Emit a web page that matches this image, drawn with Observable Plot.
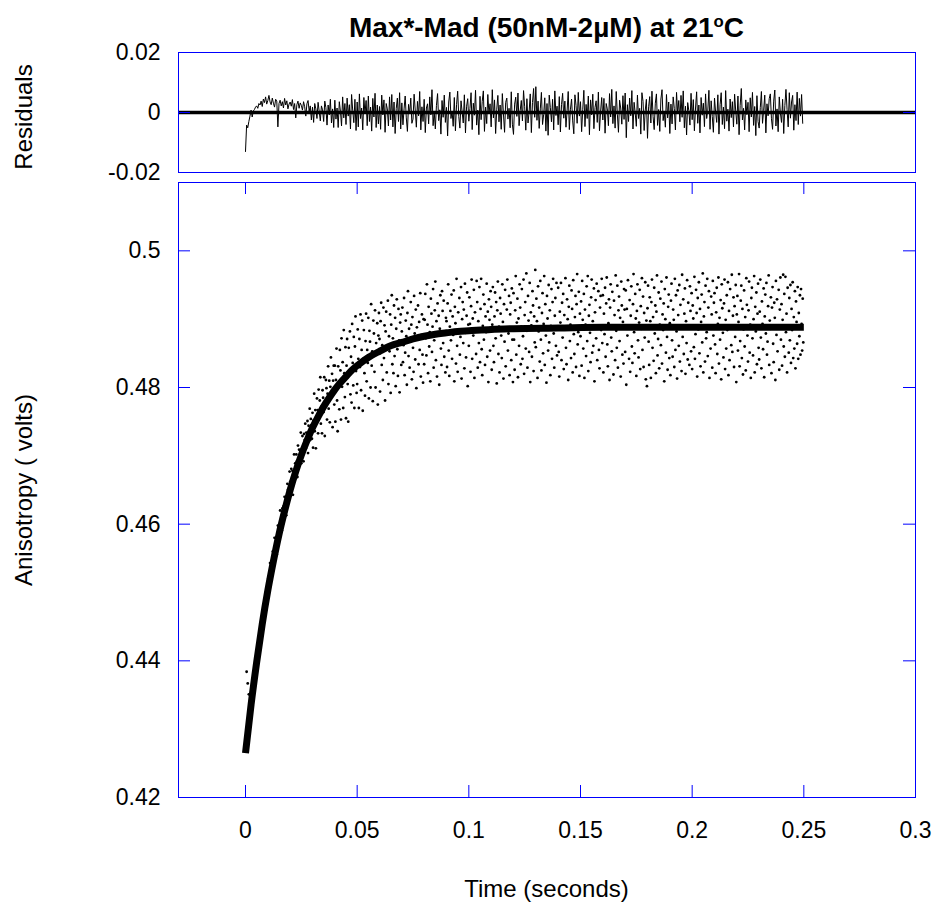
<!DOCTYPE html>
<html>
<head>
<meta charset="utf-8">
<script src="https://cdn.jsdelivr.net/npm/d3@7"></script>
<script src="https://cdn.jsdelivr.net/npm/@observablehq/plot@0.6"></script>
<style>
  html, body { margin: 0; padding: 0; background: #fff; }
  #wrap { position: relative; width: 936px; height: 905px; font-family: "Liberation Sans", Arial, sans-serif; color: #000; background: #fff; }
  #resid { position: absolute; left: 0; top: 0; z-index: 1; }
  #main { position: absolute; left: 0; top: 177px; z-index: 1; }
  #title { position: absolute; z-index: 2; left: 178px; width: 737px; top: 14px; text-align: center; font-weight: bold; font-size: 28px; line-height: 1; white-space: nowrap; }
  #title sup { font-size: 0.6em; line-height: 0; vertical-align: super; }
  .ylab { position: absolute; z-index: 2; width: 0; height: 0; }
  .ylab span { position: absolute; left: 0; top: 0; transform: translate(-50%, -50%) rotate(-90deg); white-space: nowrap; font-size: 24px; line-height: 1; }
  #xlab { position: absolute; z-index: 2; left: 178px; width: 737px; top: 877px; text-align: center; font-size: 24px; line-height: 1; }
</style>
</head>
<body>
<div id="wrap">
  <div id="resid"></div>
  <div id="main"></div>
  <div id="title">Max*-Mad (50nM-2µM) at 21<sup>o</sup>C</div>
  <div class="ylab" style="left:24px; top:117px;"><span>Residuals</span></div>
  <div class="ylab" style="left:24px; top:490px;"><span>Anisotropy ( volts)</span></div>
  <div id="xlab">Time (seconds)</div>
</div>
<script>
// Sampling intervals (seconds)
const SAMPLE_INTERVAL = 0.00025;     // anisotropy points
const RESIDUAL_INTERVAL = 0.0005;    // residual trace

// Anisotropy (volts), one value per sample (40 per 0.01 s)
const anisotropy = [
.4270,.4276,.4384,.4283,.4367,.4300,.4351,.4338,.4325,.4318,.4340,.4345,.4352,.4360,.4365,.4371,.4376,.4384,.4389,.4395,.4401,.4410,.4412,.4419,.4424,.4430,.4436,.4441,.4446,.4453,.4458,.4462,.4468,.4474,.4477,.4484,.4489,.4495,.4498,.4503,
.4509,.4521,.4509,.4525,.4543,.4529,.4519,.4546,.4541,.4560,.4553,.4545,.4580,.4568,.4563,.4581,.4556,.4582,.4598,.4586,.4596,.4585,.4620,.4605,.4601,.4591,.4623,.4615,.4626,.4608,.4640,.4627,.4636,.4613,.4639,.4659,.4650,.4639,.4653,.4677,
.4662,.4643,.4681,.4662,.4678,.4643,.4674,.4702,.4674,.4689,.4671,.4702,.4692,.4669,.4715,.4694,.4709,.4691,.4707,.4734,.4689,.4710,.4729,.4708,.4692,.4732,.4723,.4747,.4711,.4734,.4725,.4751,.4704,.4744,.4736,.4769,.4723,.4754,.4745,.4725,
.4763,.4712,.4752,.4791,.4736,.4767,.4711,.4756,.4784,.4767,.4733,.4797,.4755,.4781,.4815,.4747,.4772,.4733,.4796,.4785,.4764,.4815,.4729,.4778,.4811,.4799,.4753,.4791,.4831,.4769,.4810,.4749,.4801,.4844,.4787,.4820,.4742,.4810,.4832,.4775,
.4832,.4750,.4811,.4857,.4781,.4736,.4831,.4808,.4768,.4855,.4825,.4753,.4872,.4801,.4837,.4770,.4884,.4821,.4786,.4859,.4755,.4832,.4871,.4805,.4750,.4858,.4823,.4882,.4790,.4845,.4778,.4893,.4836,.4803,.4874,.4770,.4860,.4904,.4824,.4792,
.4805,.4885,.4842,.4770,.4871,.4830,.4907,.4796,.4855,.4898,.4766,.4842,.4884,.4821,.4788,.4868,.4908,.4809,.4855,.4836,.4902,.4784,.4883,.4867,.4800,.4922,.4832,.4853,.4780,.4898,.4879,.4823,.4913,.4800,.4865,.4848,.4894,.4775,.4876,.4909,
.4871,.4794,.4897,.4924,.4833,.4862,.4811,.4917,.4843,.4891,.4781,.4882,.4911,.4822,.4860,.4927,.4805,.4875,.4853,.4907,.4792,.4892,.4935,.4834,.4872,.4821,.4920,.4846,.4902,.4802,.4886,.4929,.4856,.4817,.4915,.4869,.4793,.4895,.4907,.4833,
.4882,.4917,.4837,.4862,.4931,.4818,.4851,.4898,.4875,.4804,.4909,.4941,.4846,.4886,.4829,.4867,.4925,.4892,.4812,.4903,.4858,.4823,.4934,.4879,.4841,.4914,.4799,.4888,.4872,.4920,.4834,.4896,.4855,.4938,.4816,.4877,.4907,.4848,.4807,.4900,
.4834,.4899,.4937,.4872,.4847,.4951,.4892,.4821,.4918,.4860,.4881,.4809,.4930,.4908,.4852,.4889,.4944,.4829,.4869,.4913,.4955,.4840,.4897,.4816,.4923,.4876,.4905,.4804,.4886,.4935,.4857,.4833,.4941,.4912,.4865,.4927,.4845,.4879,.4822,.4902,
.4897,.4830,.4923,.4951,.4854,.4817,.4889,.4912,.4869,.4936,.4842,.4904,.4877,.4942,.4809,.4918,.4894,.4835,.4959,.4861,.4823,.4910,.4885,.4931,.4848,.4874,.4947,.4813,.4900,.4925,.4865,.4914,.4828,.4952,.4880,.4844,.4905,.4939,.4802,.4892,
.4861,.4932,.4893,.4823,.4919,.4958,.4842,.4901,.4876,.4943,.4814,.4910,.4886,.4849,.4956,.4925,.4829,.4897,.4865,.4947,.4837,.4915,.4959,.4856,.4818,.4890,.4936,.4870,.4922,.4833,.4904,.4881,.4952,.4845,.4911,.4808,.4929,.4899,.4854,.4941,
.4918,.4826,.4892,.4947,.4861,.4837,.4904,.4939,.4872,.4925,.4806,.4913,.4955,.4849,.4889,.4822,.4931,.4908,.4876,.4843,.4951,.4896,.4813,.4922,.4867,.4943,.4831,.4886,.4914,.4958,.4854,.4879,.4934,.4818,.4907,.4924,.4840,.4945,.4870,.4808,
.4938,.4870,.4826,.4913,.4963,.4848,.4895,.4930,.4815,.4901,.4861,.4951,.4917,.4834,.4889,.4944,.4842,.4875,.4958,.4820,.4906,.4925,.4857,.4967,.4883,.4829,.4934,.4898,.4852,.4953,.4808,.4910,.4891,.4845,.4941,.4920,.4824,.4904,.4866,.4972,
.4859,.4930,.4897,.4814,.4948,.4882,.4917,.4838,.4956,.4870,.4825,.4909,.4938,.4850,.4893,.4963,.4833,.4922,.4876,.4807,.4934,.4901,.4854,.4950,.4866,.4913,.4818,.4890,.4944,.4842,.4925,.4959,.4879,.4829,.4905,.4931,.4861,.4953,.4847,.4888,
.4946,.4852,.4816,.4911,.4895,.4953,.4840,.4924,.4873,.4937,.4827,.4906,.4885,.4960,.4858,.4834,.4929,.4900,.4811,.4918,.4949,.4868,.4892,.4843,.4942,.4915,.4822,.4957,.4878,.4849,.4903,.4934,.4830,.4922,.4966,.4863,.4881,.4940,.4817,.4908,
.4875,.4926,.4832,.4956,.4899,.4857,.4937,.4814,.4914,.4892,.4846,.4948,.4868,.4963,.4824,.4905,.4921,.4880,.4837,.4932,.4958,.4851,.4897,.4861,.4945,.4809,.4910,.4928,.4872,.4952,.4840,.4890,.4941,.4855,.4828,.4917,.4934,.4884,.4959,.4865,
.4935,.4822,.4908,.4878,.4946,.4845,.4923,.4961,.4863,.4831,.4894,.4929,.4811,.4917,.4951,.4873,.4853,.4940,.4889,.4819,.4927,.4906,.4840,.4964,.4883,.4858,.4949,.4829,.4913,.4933,.4868,.4902,.4816,.4955,.4920,.4848,.4896,.4835,.4944,.4914,
.4852,.4942,.4804,.4915,.4876,.4957,.4891,.4842,.4928,.4823,.4905,.4948,.4860,.4836,.4922,.4966,.4881,.4850,.4937,.4901,.4817,.4912,.4951,.4869,.4844,.4895,.4943,.4827,.4919,.4886,.4960,.4855,.4933,.4830,.4909,.4873,.4954,.4812,.4898,.4802,
.4916,.4949,.4867,.4833,.4932,.4897,.4814,.4925,.4958,.4858,.4903,.4839,.4946,.4879,.4920,.4821,.4911,.4964,.4847,.4871,.4939,.4828,.4892,.4930,.4862,.4955,.4835,.4907,.4884,.4923,.4809,.4944,.4900,.4851,.4961,.4874,.4826,.4918,.4936,.4843,
.4894,.4818,.4927,.4952,.4869,.4845,.4914,.4899,.4830,.4959,.4855,.4935,.4882,.4813,.4942,.4906,.4861,.4950,.4838,.4921,.4890,.4824,.4965,.4874,.4929,.4849,.4908,.4945,.4820,.4897,.4865,.4957,.4841,.4924,.4887,.4833,.4948,.4912,.4853,.4938,
.4827,.4920,.4901,.4859,.4962,.4842,.4878,.4943,.4909,.4816,.4931,.4885,.4954,.4850,.4915,.4831,.4896,.4936,.4866,.4967,.4822,.4904,.4925,.4838,.4949,.4872,.4881,.4959,.4846,.4917,.4941,.4814,.4891,.4857,.4933,.4907,.4829,.4956,.4876,.4924,
.4938,.4863,.4821,.4910,.4946,.4849,.4893,.4961,.4835,.4902,.4870,.4928,.4812,.4951,.4916,.4880,.4844,.4923,.4958,.4827,.4899,.4857,.4935,.4884,.4954,.4818,.4912,.4840,.4944,.4889,.4862,.4965,.4852,.4905,.4932,.4830,.4919,.4874,.4950,.4808,
.4907,.4934,.4854,.4896,.4966,.4831,.4868,.4927,.4949,.4843,.4915,.4819,.4885,.4942,.4860,.4903,.4825,.4960,.4921,.4876,.4838,.4913,.4955,.4851,.4892,.4814,.4931,.4946,.4872,.4847,.4900,.4963,.4822,.4918,.4882,.4939,.4834,.4908,.4952,.4858,
.4841,.4911,.4958,.4873,.4828,.4926,.4893,.4856,.4945,.4815,.4904,.4936,.4879,.4953,.4848,.4867,.4919,.4964,.4833,.4898,.4886,.4932,.4821,.4917,.4947,.4864,.4837,.4924,.4902,.4811,.4956,.4877,.4929,.4853,.4889,.4943,.4826,.4914,.4961,.4870,
.4922,.4832,.4899,.4965,.4860,.4937,.4845,.4962,.4881,.4908,.4822,.4946,.4891,.4851,.4931,.4869,.4950,.4836,.4915,.4884,.4954,.4843,.4903,.4857,.4941,.4828,.4926,.4896,.4864,.4947,.4842,.4909,.4875,.4935,.4848,.4944,.4893,.4854,.4930,.4866
];

// Residuals of the fit, one value per 0.0005 s
const residuals = [
-.0130,-.0042,-.0051,-.0030,-.0012,.0008,-.0015,.0005,.0010,.0018,
.0022,.0014,.0030,.0025,.0038,.0020,.0045,.0033,.0052,.0028,
.0040,.0057,.0035,.0026,.0048,.0031,.0018,.0044,.0038,-.0048,
.0030,.0041,.0022,.0036,.0015,.0047,.0025,.0039,.0012,.0028,
.0035,.0021,.0043,.0010,.0030,-.0018,.0026,.0038,.0014,.0032,
.0024,.0008,.0036,.0019,-.0012,.0029,.0040,.0005,.0022,-.0025,
.0018,-.0033,.0030,.0012,-.0020,.0034,.0004,-.0028,.0022,.0009,
-.0030,.0038,.0016,-.0042,.0025,-.0008,.0044,-.0035,.0012,-.0050,
.0041,-.0022,.0015,-.0050,.0036,.0005,-.0045,.0052,-.0018,.0030,
-.0040,.0048,-.0012,.0026,-.0055,.0060,.0008,-.0034,.0044,-.0060,
.0035,-.0048,.0062,-.0020,.0015,-.0058,.0050,-.0005,.0040,-.0044,
.0055,-.0030,.0018,-.0062,.0047,-.0015,.0064,-.0050,.0025,-.0038,
.0020,-.0056,.0058,-.0008,.0042,-.0066,.0030,.0012,-.0045,.0052,
-.0025,.0060,-.0048,.0035,-.0070,.0014,.0048,-.0030,.0066,-.0055,
.0032,-.0041,.0012,.0055,-.0018,-.0063,.0027,-.0005,.0048,-.0036,
-.0022,.0061,.0008,-.0049,.0037,-.0011,.0070,-.0058,.0019,-.0030,
.0044,-.0067,.0015,.0029,-.0038,.0052,-.0008,.0076,-.0044,.0003,
-.0055,.0024,.0063,-.0027,.0009,-.0072,.0040,-.0016,.0058,-.0033,
.0017,-.0078,.0035,.0068,-.0020,.0005,-.0046,.0050,-.0061,.0026,
.0071,-.0014,-.0052,.0039,.0002,-.0035,.0059,-.0068,.0021,.0046,
-.0029,.0013,.0066,-.0057,.0031,-.0009,.0074,-.0042,.0008,-.0074,
.0054,-.0024,.0037,.0072,-.0063,.0018,-.0037,.0060,-.0004,.0029,
-.0048,.0076,-.0018,.0042,-.0070,.0011,.0057,-.0031,.0025,-.0056,
.0063,-.0005,-.0066,.0034,.0048,-.0022,.0014,-.0051,.0069,-.0039,
-.0073,.0028,.0051,-.0013,.0065,-.0044,.0007,.0040,-.0028,.0073,
.0019,-.0059,.0046,-.0035,.0003,.0062,-.0067,.0033,.0080,-.0016,
.0086,-.0026,.0038,-.0053,.0012,.0067,-.0040,-.0007,.0049,-.0062,
.0030,-.0076,.0058,.0016,-.0031,.0044,-.0058,.0072,-.0010,.0021,
-.0041,.0053,-.0065,.0027,.0064,-.0019,.0038,-.0049,.0006,.0070,
-.0057,.0011,.0045,-.0028,-.0071,.0059,.0024,-.0036,.0067,-.0012,
.0036,-.0064,.0009,.0074,-.0047,.0027,-.0020,.0055,-.0074,.0042,
-.0008,.0061,-.0054,.0017,.0039,-.0033,.0068,-.0061,.0004,.0050,
-.0025,.0047,-.0069,.0030,.0012,-.0044,.0063,-.0015,.0077,-.0037,
.0022,-.0052,.0070,-.0006,-.0066,.0041,.0015,-.0039,.0056,-.0023,
.0065,-.0084,.0026,-.0030,.0048,-.0011,.0073,-.0055,.0034,-.0002,
-.0046,.0058,-.0020,.0014,-.0072,.0066,.0037,-.0060,.0008,.0044,
-.0086,.0019,.0053,-.0035,.0071,-.0014,-.0057,.0031,.0062,-.0043,
.0010,-.0063,.0045,.0076,-.0027,.0003,-.0049,.0060,-.0018,.0035,
-.0070,.0028,-.0038,.0052,.0013,-.0058,.0067,-.0004,.0040,-.0031,
.0057,-.0016,.0072,-.0051,.0021,-.0075,.0033,.0006,-.0042,.0064,
-.0024,.0043,-.0061,.0015,.0069,-.0036,.0025,-.0068,.0050,-.0009,
.0031,-.0047,.0062,-.0020,.0008,.0074,-.0056,.0039,-.0013,-.0066,
.0048,.0001,-.0033,.0059,-.0072,.0026,.0066,-.0040,.0018,-.0054,
.0073,-.0029,.0011,-.0062,.0045,-.0017,.0036,-.0048,.0061,.0005,
-.0039,.0055,-.0074,.0024,.0080,-.0025,.0014,-.0058,.0042,-.0007,
.0034,-.0064,.0049,-.0015,.0067,-.0043,.0020,-.0077,.0056,-.0030,
-.0052,.0016,.0070,-.0036,.0007,.0058,-.0068,.0029,-.0011,.0046,
.0062,-.0021,-.0056,.0038,.0075,-.0045,.0012,-.0064,.0052,-.0002,
-.0033,.0044,-.0070,.0023,.0077,.0009,-.0048,.0066,-.0019,.0035,
.0057,-.0059,.0026,-.0027,.0068,-.0040,.0047,-.0012,.0060,-.0036
];

// Fitted single-exponential curve
const fitTime  = [0, .0025, .005, .0075, .01, .0125, .015, .0175, .02, .0225, .025, .0275, .03, .0325, .035, .0375, .04, .0425, .045, .0475, .05, .055, .06, .065, .07, .075, .08, .085, .09, .095, .1, .11, .12, .14, .16, .2, .25];
const fitValue = [.4265, .4336, .4398, .4454, .4503, .4546, .4585, .4619, .4650, .4677, .4701, .4722, .4741, .4757, .4772, .4785, .4797, .4807, .4816, .4825, .4832, .4844, .4853, .4861, .4866, .4871, .4875, .4878, .4880, .4882, .4883, .4885, .4886, .4887, .4888, .4888, .4888];

// Axis ticks
const xTicks = [0, 0.05, 0.1, 0.15, 0.2, 0.25, 0.3];
const yTicks = [0.42, 0.44, 0.46, 0.48, 0.5];
const residTicks = [0.02, 0, -0.02];

const xDomain = [-0.03, 0.3];
const points = anisotropy.map((v, i) => ({t: i * SAMPLE_INTERVAL, v}));
const resid = residuals.map((r, i) => ({t: i * RESIDUAL_INTERVAL, r}));
const fit = fitTime.map((t, i) => ({t, v: fitValue[i]}));

const W = 936, ML = 178, MR = 21;
const innerW = W - ML - MR;
const TICK = 12;
const BLUE = "#0000ff";
const fmt = d => String(d);
const baseStyle = {fontFamily: "'Liberation Sans', Arial, sans-serif", fontSize: "23px", color: "#000", background: "transparent", overflow: "visible"};

// Residuals panel
const rH = 177, rMT = 52, rMB = 5;
const residPlot = Plot.plot({
  width: W, height: rH, marginLeft: ML, marginRight: MR, marginTop: rMT, marginBottom: rMB,
  x: {domain: xDomain, axis: null},
  y: {domain: [-0.02, 0.02]},
  style: baseStyle,
  marks: [
    Plot.ruleY([0], {stroke: "#000", strokeWidth: 3.5}),
    Plot.line(resid, {x: "t", y: "r", stroke: "#000", strokeWidth: 1}),
    Plot.tickY(residTicks, {y: d => d, stroke: BLUE, insetRight: innerW - TICK}),
    Plot.tickY(residTicks, {y: d => d, stroke: BLUE, insetLeft: innerW - TICK}),
    Plot.axisY(residTicks, {anchor: "left", tickSize: 0, tickPadding: 18, tickFormat: fmt, label: null, fontSize: 23}),
    Plot.frame({stroke: BLUE})
  ]
});
document.getElementById("resid").appendChild(residPlot);

// Main panel
const mH = 728, mMT = 5, mMB = 108;
const innerH = mH - mMT - mMB;
const mainPlot = Plot.plot({
  width: W, height: mH, marginLeft: ML, marginRight: MR, marginTop: mMT, marginBottom: mMB,
  x: {domain: xDomain},
  y: {domain: [0.42, 0.51]},
  style: baseStyle,
  marks: [
    Plot.dot(points, {x: "t", y: "v", r: 1.4, fill: "#000", stroke: null}),
    Plot.line(fit, {x: "t", y: "v", stroke: "#000", strokeWidth: 7, curve: "monotone-x", strokeLinecap: "butt"}),
    Plot.tickY(yTicks, {y: d => d, stroke: BLUE, insetRight: innerW - TICK}),
    Plot.tickY(yTicks, {y: d => d, stroke: BLUE, insetLeft: innerW - TICK}),
    Plot.tickX(xTicks, {x: d => d, stroke: BLUE, insetTop: innerH - TICK}),
    Plot.tickX(xTicks, {x: d => d, stroke: BLUE, insetBottom: innerH - TICK}),
    Plot.axisY(yTicks, {anchor: "left", tickSize: 0, tickPadding: 18, tickFormat: fmt, label: null, fontSize: 23}),
    Plot.axisX(xTicks, {anchor: "bottom", tickSize: 0, tickPadding: 24, tickFormat: fmt, label: null, fontSize: 23}),
    Plot.frame({stroke: BLUE})
  ]
});
document.getElementById("main").appendChild(mainPlot);
</script>
</body>
</html>
